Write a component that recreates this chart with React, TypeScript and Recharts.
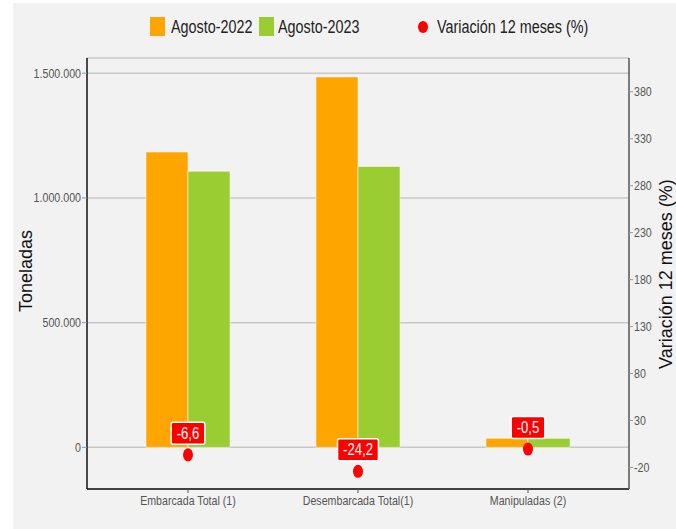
import React from "react";
import { ComposedChart, Bar, Scatter, XAxis, YAxis, CartesianGrid } from "recharts";

const categories = ["Embarcada Total (1)", "Desembarcada Total(1)", "Manipuladas (2)"];
const agosto2022 = [1184000, 1485000, 36200];
const agosto2023 = [1107000, 1126000, 36000];
const variacion = [-6.6, -24.2, -0.5];
const leftTicks = [0, 500000, 1000000, 1500000];
const rightTicks = [-20, 30, 80, 130, 180, 230, 280, 330, 380];

const ORANGE = "#ffa500";
const GREEN = "#9acd32";
const RED = "#ff0000";
const FONT = "'Liberation Sans', Arial, sans-serif";
const NARROW = 0.82;

const data = categories.map((name, i) => ({
    name,
    a2022: agosto2022[i],
    a2023: agosto2023[i],
    variacion: variacion[i],
}));

const miles = (v: number) => String(v).replace(/\B(?=(\d{3})+(?!\d))/g, ".");
const decimal = (v: number) => v.toFixed(1).replace(".", ",");

const NarrowText = ({ x, y, anchor, size, fill, children }: any) => (
    <text
        transform={`translate(${x},${y}) scale(${NARROW},1)`}
        textAnchor={anchor}
        fontSize={size}
        fill={fill}
        fontFamily={FONT}
    >
        {children}
    </text>
);

const LeftTick = ({ x, y, payload }: any) => (
    <NarrowText x={x} y={y + 4.5} anchor="end" size={13} fill="#555">
        {miles(payload.value)}
    </NarrowText>
);

const RightTick = ({ x, y, payload }: any) => (
    <NarrowText x={x} y={y + 4.5} anchor="start" size={13} fill="#555">
        {payload.value}
    </NarrowText>
);

const BottomTick = ({ x, y, payload }: any) => (
    <NarrowText x={x} y={y + 10} anchor="middle" size={13} fill="#555">
        {payload.value}
    </NarrowText>
);

const charW: Record<string, number> = { "-": 0.333, ",": 0.278 };

const PointWithLabel = (props: any) => {
    const { cx, cy, payload } = props;
    if (cx == null || cy == null) return null;
    const txt = decimal(payload.variacion);
    const em = txt.split("").reduce((s, c) => s + (charW[c] ?? 0.556), 0);
    const tw = em * 16 * NARROW;
    const w = tw + 11;
    const h = 22;
    const by = cy - 21.5;
    return (
        <g>
            <ellipse cx={cx} cy={cy} rx={5} ry={6.5} fill={RED} />
            <rect x={cx - w / 2} y={by - h / 2} width={w} height={h} rx={2} fill={RED} stroke="#fff" strokeWidth={1.5} />
            <NarrowText x={cx} y={by + 5.5} anchor="middle" size={16} fill="#fff">
                {txt}
            </NarrowText>
        </g>
    );
};

const LegendText = ({ children }: any) => (
    <span
        style={{
            display: "inline-block",
            transform: `scaleX(${NARROW})`,
            transformOrigin: "left center",
            whiteSpace: "nowrap",
        }}
    >
        {children}
    </span>
);

export default function App() {
    const legendText: React.CSSProperties = {
        position: "absolute",
        top: 17,
        lineHeight: "20px",
        fontSize: 17.5,
        color: "#222",
        fontFamily: FONT,
    };
    return (
        <div style={{ position: "absolute", left: 0, top: 0, width: 676, height: 529, background: "#fff", overflow: "hidden" }}>
            <div style={{ position: "absolute", left: 13, top: 3, width: 663, height: 526, background: "#f2f2f2" }} />

            {/* leyenda */}
            <div style={{ position: "absolute", left: 150, top: 17, width: 15, height: 19, background: ORANGE }} />
            <div style={{ ...legendText, left: 171 }}>
                <LegendText>Agosto-2022</LegendText>
            </div>
            <div style={{ position: "absolute", left: 259, top: 17, width: 15, height: 19, background: GREEN }} />
            <div style={{ ...legendText, left: 278 }}>
                <LegendText>Agosto-2023</LegendText>
            </div>
            <div style={{ position: "absolute", left: 418, top: 21, width: 10, height: 12, borderRadius: "50%", background: RED }} />
            <div style={{ ...legendText, left: 437 }}>
                <LegendText>Variación 12 meses (%)</LegendText>
            </div>

            <ComposedChart
                width={676}
                height={529}
                data={data}
                margin={{ top: 58, right: 0, bottom: 0, left: 0 }}
                barGap={0}
                style={{ position: "absolute", left: 0, top: 0 }}
            >
                <CartesianGrid yAxisId="left" vertical={false} stroke="#c8c8c8" strokeWidth={1.5} />
                <XAxis
                    dataKey="name"
                    padding={{ left: 16, right: 16 }}
                    height={40}
                    axisLine={{ stroke: "#111", strokeWidth: 1.5 }}
                    tickLine={{ stroke: "#555" }}
                    tickSize={4}
                    tickMargin={2}
                    tick={<BottomTick />}
                    interval={0}
                />
                <YAxis
                    yAxisId="left"
                    width={87}
                    type="number"
                    domain={[-167000, 1561000]}
                    allowDataOverflow
                    ticks={leftTicks}
                    axisLine={{ stroke: "#111", strokeWidth: 1.5 }}
                    tickLine={{ stroke: "#999" }}
                    tickSize={5}
                    tickMargin={1}
                    tick={<LeftTick />}
                    label={{
                        content: () => (
                            <text
                                x={32}
                                y={271}
                                transform="rotate(-90, 32, 271)"
                                textAnchor="middle"
                                fontSize={18}
                                fill="#111"
                                fontFamily={FONT}
                            >
                                Toneladas
                            </text>
                        ),
                    }}
                />
                <YAxis
                    yAxisId="right"
                    orientation="right"
                    width={47}
                    type="number"
                    domain={[-43, 416]}
                    allowDataOverflow
                    ticks={rightTicks}
                    axisLine={{ stroke: "#555", strokeWidth: 1.5 }}
                    tickLine={{ stroke: "#999" }}
                    tickSize={4}
                    tickMargin={1}
                    tick={<RightTick />}
                    label={{
                        content: () => (
                            <text
                                x={672}
                                y={274}
                                transform="rotate(-90, 672, 274)"
                                textAnchor="middle"
                                fontSize={18}
                                fill="#111"
                                fontFamily={FONT}
                            >
                                Variación 12 meses (%)
                            </text>
                        ),
                    }}
                />
                <Bar yAxisId="left" dataKey="a2022" fill={ORANGE} barSize={42} stroke="#fff" strokeOpacity={0.5} isAnimationActive={false} />
                <Bar yAxisId="left" dataKey="a2023" fill={GREEN} barSize={42} stroke="#fff" strokeOpacity={0.5} isAnimationActive={false} />
                <Scatter yAxisId="right" dataKey="variacion" shape={PointWithLabel} isAnimationActive={false} />
            </ComposedChart>
        </div>
    );
}
